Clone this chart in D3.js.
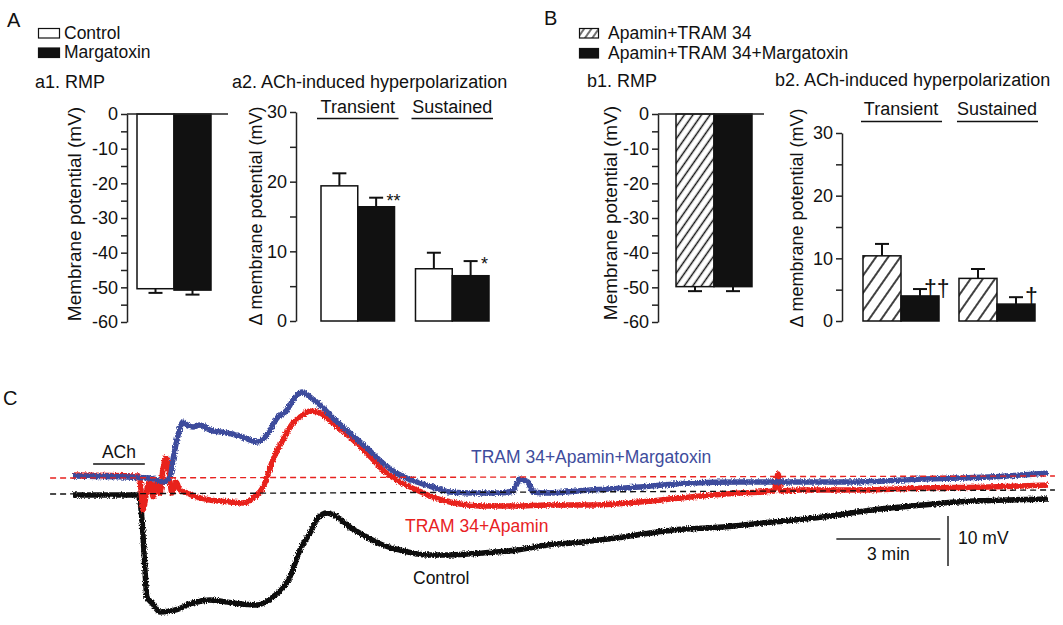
<!DOCTYPE html>
<html><head><meta charset="utf-8">
<script src="https://cdn.jsdelivr.net/npm/d3@7"></script>
<style>
body{margin:0;background:#fff;}
svg{display:block;font-family:"Liberation Sans",Arial,Helvetica,sans-serif;}
</style></head><body>
<svg id="fig" width="1063" height="625"></svg>
<script>
// ---------------- DATA ----------------
const a1Groups = ["Control", "Margatoxin"];
const a1Mean = [-50.4, -50.8];
const a1Err = [1.2, 1.3];

const phases = ["Transient", "Sustained"];
const a2Control = [19.4, 7.5];
const a2ControlErr = [1.8, 2.3];
const a2Marg = [16.4, 6.5];
const a2MargErr = [1.3, 2.1];
const a2Sig = ["**", "*"];

const b1Groups = ["Apamin+TRAM 34", "Apamin+TRAM 34+Margatoxin"];
const b1Mean = [-49.8, -49.8];
const b1Err = [1.3, 1.3];

const b2Apa = [10.4, 6.8];
const b2ApaErr = [1.9, 1.5];
const b2Marg = [4.0, 2.7];
const b2MargErr = [1.1, 1.1];
const b2Sig = ["††", "†"];

const rmpTicks = d3.range(-60, 1, 5);
const deltaTicks = d3.range(0, 31, 5);

// Panel C traces: [time (min), membrane potential relative to control baseline (mV)]
const controlTrace = [[0,0],[1.87,0],[1.99,-5],[2.07,-14.4],[2.13,-20.4],[2.28,-21.6],[2.51,-23.4],[2.94,-23],[3.46,-21.6],[3.95,-21],[4.61,-21.6],[5.3,-22],[5.76,-20.4],[6.25,-16.4],[6.54,-11],[6.83,-7.6],[7.06,-4.6],[7.32,-3.6],[7.61,-4.4],[7.98,-6.4],[8.47,-8.4],[8.93,-10],[9.42,-11],[10.2,-12],[10.86,-12],[11.82,-11.6],[12.8,-11],[13.66,-10],[14.41,-9.6],[15.85,-8.4],[17.29,-7],[18.73,-6.4],[20.17,-5.4],[21.61,-4.4],[23.05,-3],[24.5,-2],[25.48,-1.4],[26.92,-1],[28.1,-0.8]];
const tramApaTrace = [[0,4],[1.87,3.8],[1.93,3],[2.02,-3],[2.13,1],[2.22,3],[2.31,-0.4],[2.42,2.4],[2.51,0.4],[2.59,5],[2.68,7.4],[2.77,4.4],[2.85,0.4],[2.97,2.6],[3.08,1],[3.29,0.4],[3.57,-0.4],[3.95,-1],[4.52,-1.4],[4.9,-1.6],[5.19,-0.6],[5.48,1.6],[5.76,7],[6.05,11],[6.34,14.4],[6.63,16],[6.83,16.8],[7.12,16.4],[7.49,14.4],[7.98,11.6],[8.47,8.4],[8.93,5],[9.42,2.6],[9.91,1],[10.37,-0.4],[10.86,-1.4],[11.35,-2],[11.82,-2.2],[12.8,-2.2],[13.66,-2],[14.9,-2],[16.34,-1.4],[17.78,-0.4],[19.22,0.4],[20.2,0.8],[20.32,4.2],[20.4,0.8],[20.95,1],[22.6,1],[24.5,1.4],[26.4,1.6],[28.1,2]];
const tramApaMgtxTrace = [[0,3.8],[2.22,3.4],[2.42,3],[2.59,2.6],[2.8,3.6],[2.88,7],[3.03,12],[3.17,14.6],[3.29,14],[3.46,13.6],[3.66,14],[3.95,13],[4.44,12.4],[4.9,11.6],[5.3,10.6],[5.59,12],[5.88,15.4],[6.17,17],[6.34,19],[6.6,20.6],[6.83,19.6],[7.12,18],[7.49,15.4],[7.98,12.4],[8.47,9.4],[8.93,6.4],[9.42,4],[9.91,2.6],[10.37,1.6],[10.86,0.6],[11.53,0.4],[12.31,0.4],[12.68,0.8],[12.88,3.2],[13.11,2.6],[13.26,0.6],[13.66,0.4],[14.9,1],[16.34,1.6],[17.78,2.4],[19.22,2.6],[20.95,2.6],[22.6,2.6],[24.5,3.2],[26.4,3.6],[28.1,4.4]];
const controlBaseline = [[-0.66,0.2],[28.3,1.0]];
const treatedBaseline = [[-0.66,3.4],[28.3,3.8]];
const achApplication = [0.58, 2.07];
const scaleBarTime = 3;   // min
const scaleBarVolt = 10;  // mV

// ---------------- DRAWING ----------------
const svg = d3.select("#fig");
const INK = "#111";
const FS = 18;

const defs = svg.append("defs");
function hatch(id, w, sw) {
  const p = defs.append("pattern").attr("id", id).attr("patternUnits", "userSpaceOnUse")
    .attr("width", w).attr("height", w).attr("patternTransform", "rotate(35)");
  p.append("rect").attr("width", w).attr("height", w).attr("fill", "#fff");
  p.append("line").attr("x1", w/2).attr("y1", -1).attr("x2", w/2).attr("y2", w+1)
    .attr("stroke", INK).attr("stroke-width", sw);
}
hatch("hatchB1", 7, 1.5);
hatch("hatchB2", 10, 1.6);
hatch("hatchLeg", 6, 1.2);

// recording-noise texture for the traces (deterministic)
const f = defs.append("filter").attr("id", "noisy").attr("x", "-2%").attr("y", "-10%")
  .attr("width", "104%").attr("height", "120%");
f.append("feTurbulence").attr("type", "fractalNoise").attr("baseFrequency", "0.9 0.6")
  .attr("numOctaves", 1).attr("seed", 3).attr("result", "turb");
f.append("feDisplacementMap").attr("in", "SourceGraphic").attr("in2", "turb")
  .attr("scale", 4.5).attr("xChannelSelector", "R").attr("yChannelSelector", "G");

function text(x, y, s, opts = {}) {
  const t = svg.append("text").attr("x", x).attr("y", y).text(s)
    .attr("font-size", opts.size || FS).attr("fill", opts.fill || INK);
  if (opts.anchor) t.attr("text-anchor", opts.anchor);
  if (opts.rotate) t.attr("transform", `rotate(-90,${x},${y})`);
  return t;
}

function yAxis(scale, x, ticks) {
  const g = svg.append("g").attr("transform", `translate(${x},0)`)
    .call(d3.axisLeft(scale).tickValues(ticks).tickFormat(d => d % 10 === 0 ? String(d) : "")
      .tickSize(6).tickSizeOuter(0).tickPadding(3));
  g.attr("font-family", null).attr("font-size", 18);
  g.selectAll("text").attr("fill", INK);
  g.selectAll("path,line").attr("stroke", "#222").attr("stroke-width", 1.5);
  return g;
}

function errBar(cx, y0, y1) {
  svg.append("line").attr("x1", cx).attr("x2", cx).attr("y1", y0).attr("y2", y1)
    .attr("stroke", INK).attr("stroke-width", 2);
  svg.append("line").attr("x1", cx - 7).attr("x2", cx + 7).attr("y1", y1).attr("y2", y1)
    .attr("stroke", INK).attr("stroke-width", 2);
}

// Panel letters
text(7, 27, "A", { size: 20 });
text(544, 25, "B", { size: 20 });
text(3, 405, "C", { size: 20 });

// Legends
function legendBox(x, y, w, h, fill) {
  svg.append("rect").attr("x", x).attr("y", y).attr("width", w).attr("height", h)
    .attr("fill", fill).attr("stroke", INK).attr("stroke-width", 1.2);
}
legendBox(38.5, 28.5, 21, 9.5, "#fff");
text(64, 39, a1Groups[0], { size: 17.5 });
legendBox(38.5, 48, 21, 9.5, INK);
text(64, 58, a1Groups[1], { size: 17.5 });

legendBox(579.5, 28.5, 19, 9.5, "url(#hatchLeg)");
text(608, 39, b1Groups[0], { size: 17.5 });
legendBox(579.5, 48.5, 19, 9.5, INK);
text(608, 59, b1Groups[1], { size: 17.5 });

// ---- a1 ----
text(35, 88, "a1. RMP");
const yA1 = d3.scaleLinear().domain([-60, 0]).range([322, 114]);
const xA1 = d3.scaleBand().domain(a1Groups).range([137, 211]);
a1Groups.forEach((g, i) => {
  svg.append("rect").attr("x", xA1(g)).attr("y", yA1(0)).attr("width", xA1.bandwidth())
    .attr("height", yA1(a1Mean[i]) - yA1(0)).attr("fill", i ? INK : "#fff")
    .attr("stroke", INK).attr("stroke-width", 1.5);
  errBar(xA1(g) + xA1.bandwidth() / 2, yA1(a1Mean[i]), yA1(a1Mean[i] - a1Err[i]));
});
yAxis(yA1, 127, rmpTicks);
svg.append("line").attr("x1", 127).attr("x2", 228).attr("y1", yA1(0)).attr("y2", yA1(0))
  .attr("stroke", "#222").attr("stroke-width", 1.5);
text(81, 214, "Membrane potential (mV)", { size: 19, anchor: "middle", rotate: true });

// ---- a2 ----
text(232, 88, "a2. ACh-induced hyperpolarization");
const yA2 = d3.scaleLinear().domain([0, 30]).range([321, 112]);
const xA2 = d3.scaleBand().domain(phases).range([321, 489]).paddingInner(0.222);
const sA2 = d3.scaleBand().domain(["c", "m"]).range([0, xA2.bandwidth()]);
phases.forEach((p, i) => {
  const x0 = xA2(p);
  [[a2Control, a2ControlErr, "c", "#fff"], [a2Marg, a2MargErr, "m", INK]].forEach(([m, e, k, f]) => {
    svg.append("rect").attr("x", x0 + sA2(k)).attr("y", yA2(m[i])).attr("width", sA2.bandwidth())
      .attr("height", yA2(0) - yA2(m[i])).attr("fill", f).attr("stroke", INK).attr("stroke-width", 1.5);
    errBar(x0 + sA2(k) + sA2.bandwidth() / 2, yA2(m[i]), yA2(m[i] + e[i]));
  });
  text(x0 + sA2("m") + sA2.bandwidth() - 8, yA2(a2Marg[i] + a2MargErr[i]) + 9, a2Sig[i], { size: 18 });
  svg.append("line").attr("x1", x0 - 4).attr("x2", x0 + xA2.bandwidth() + 4).attr("y1", 118.5).attr("y2", 118.5)
    .attr("stroke", INK).attr("stroke-width", 1.5);
  text(x0 + xA2.bandwidth() / 2, 113, p, { anchor: "middle" });
});
yAxis(yA2, 296, deltaTicks);
text(262, 216, "Δ membrane potential (mV)", { size: 18, anchor: "middle", rotate: true });

// ---- b1 ----
text(587, 87, "b1. RMP");
const yB1 = d3.scaleLinear().domain([-60, 0]).range([322, 114]);
const xB1 = d3.scaleBand().domain(b1Groups).range([676, 752]);
b1Groups.forEach((g, i) => {
  svg.append("rect").attr("x", xB1(g)).attr("y", yB1(0)).attr("width", xB1.bandwidth())
    .attr("height", yB1(b1Mean[i]) - yB1(0)).attr("fill", i ? INK : "url(#hatchB1)")
    .attr("stroke", INK).attr("stroke-width", 1.5);
  errBar(xB1(g) + xB1.bandwidth() / 2, yB1(b1Mean[i]), yB1(b1Mean[i] - b1Err[i]));
});
yAxis(yB1, 658, rmpTicks);
svg.append("line").attr("x1", 658).attr("x2", 764).attr("y1", yB1(0)).attr("y2", yB1(0))
  .attr("stroke", "#222").attr("stroke-width", 1.5);
text(617, 213, "Membrane potential (mV)", { size: 19, anchor: "middle", rotate: true });

// ---- b2 ----
text(775, 86, "b2. ACh-induced hyperpolarization");
const yB2 = d3.scaleLinear().domain([0, 30]).range([321, 133]);
const xB2 = d3.scaleBand().domain(phases).range([863, 1035]).paddingInner(0.208);
const sB2 = d3.scaleBand().domain(["a", "m"]).range([0, xB2.bandwidth()]);
phases.forEach((p, i) => {
  const x0 = xB2(p);
  [[b2Apa, b2ApaErr, "a", "url(#hatchB2)"], [b2Marg, b2MargErr, "m", INK]].forEach(([m, e, k, f]) => {
    svg.append("rect").attr("x", x0 + sB2(k)).attr("y", yB2(m[i])).attr("width", sB2.bandwidth())
      .attr("height", yB2(0) - yB2(m[i])).attr("fill", f).attr("stroke", INK).attr("stroke-width", 1.5);
    errBar(x0 + sB2(k) + sB2.bandwidth() / 2, yB2(m[i]), yB2(m[i] + e[i]));
  });
  text(x0 + sB2("m") + sB2.bandwidth() - 15 + (i ? 5 : 0), yB2(b2Marg[i] + b2MargErr[i]) + 8, b2Sig[i], { size: 23 });
  svg.append("line").attr("x1", x0 - 2).attr("x2", x0 + xB2.bandwidth() + 3).attr("y1", 121.5).attr("y2", 121.5)
    .attr("stroke", INK).attr("stroke-width", 1.5);
  text(x0 + xB2.bandwidth() / 2, 115, p, { anchor: "middle" });
});
yAxis(yB2, 842, deltaTicks);
text(803, 218, "Δ membrane potential (mV)", { size: 18, anchor: "middle", rotate: true });

// ---- Panel C ----
const xC = d3.scaleLinear().domain([0, 28.1]).range([73, 1048]);
const yC = d3.scaleLinear().domain([0, -10]).range([495, 545]);
const line = d3.line().x(d => xC(d[0])).y(d => yC(d[1])).curve(d3.curveMonotoneX);

const traces = svg.append("g").attr("filter", "url(#noisy)");
traces.append("path").attr("d", line(controlTrace)).attr("fill", "none")
  .attr("stroke", "#111").attr("stroke-width", 5.5).attr("stroke-linejoin", "round");
traces.append("path").attr("d", line(tramApaTrace)).attr("fill", "none")
  .attr("stroke", "#e8221f").attr("stroke-width", 5.5).attr("stroke-linejoin", "round");
traces.append("path").attr("d", line(tramApaMgtxTrace)).attr("fill", "none")
  .attr("stroke", "#3e4c9c").attr("stroke-width", 5.5).attr("stroke-linejoin", "round");

const straight = d3.line().x(d => xC(d[0])).y(d => yC(d[1]));
svg.append("path").attr("d", straight(controlBaseline)).attr("stroke", "#111")
  .attr("stroke-width", 1.4).attr("stroke-dasharray", "6,4").attr("fill", "none");
svg.append("path").attr("d", straight(treatedBaseline)).attr("stroke", "#e8221f")
  .attr("stroke-width", 1.4).attr("stroke-dasharray", "6,4").attr("fill", "none");

// ACh bar
svg.append("line").attr("x1", xC(achApplication[0])).attr("x2", xC(achApplication[1]))
  .attr("y1", 464).attr("y2", 464).attr("stroke", INK).attr("stroke-width", 1.5);
text((xC(achApplication[0]) + xC(achApplication[1])) / 2, 458, "ACh", { anchor: "middle", size: 17.5 });

// Trace labels
text(471, 463, "TRAM 34+Apamin+Margatoxin", { fill: "#3e4c9c", size: 17.5 });
text(405, 532, "TRAM 34+Apamin", { fill: "#e8221f", size: 17.5 });
text(413, 584, "Control", { size: 17.5 });

// Scale bars
const sbT0 = 22.0, sbY = 539;
svg.append("line").attr("x1", xC(sbT0)).attr("x2", xC(sbT0 + scaleBarTime)).attr("y1", sbY).attr("y2", sbY)
  .attr("stroke", "#222").attr("stroke-width", 1.5);
text((xC(sbT0) + xC(sbT0 + scaleBarTime)) / 2, 560, scaleBarTime + " min", { anchor: "middle", size: 17.5 });
const sbX = 948, sbV0 = -4.2;
svg.append("line").attr("x1", sbX).attr("x2", sbX).attr("y1", yC(sbV0)).attr("y2", yC(sbV0 - scaleBarVolt))
  .attr("stroke", "#222").attr("stroke-width", 1.5);
text(958, 544, scaleBarVolt + " mV", { size: 17.5 });
</script>
</body></html>
